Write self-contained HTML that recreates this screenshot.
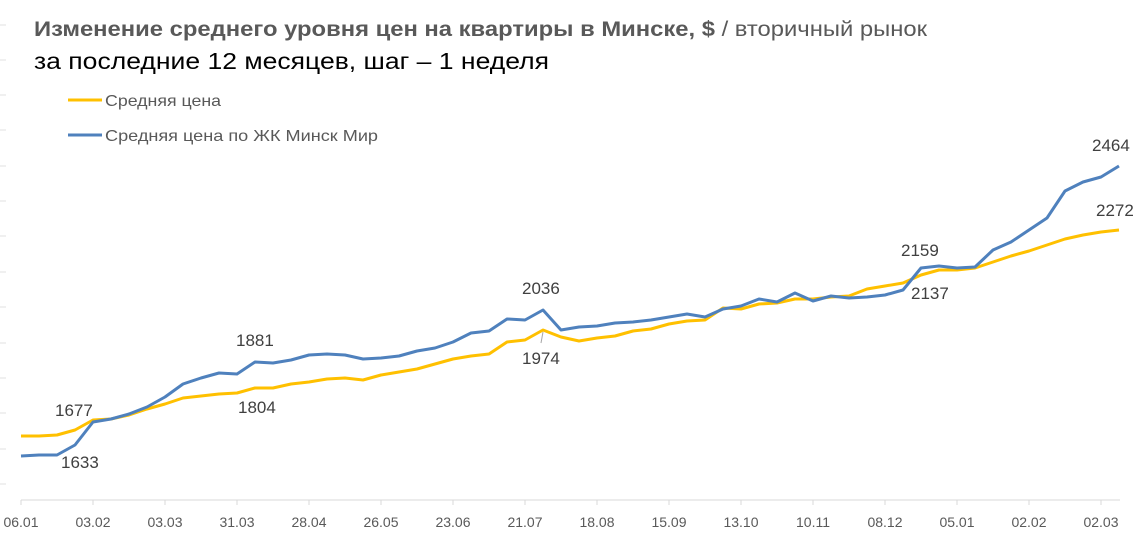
<!DOCTYPE html>
<html><head><meta charset="utf-8"><style>
body{margin:0;background:#fff;width:1139px;height:536px;overflow:hidden;}
svg text{font-family:"Liberation Sans",sans-serif;}
</style></head><body>
<svg width="1139" height="536" xmlns="http://www.w3.org/2000/svg">
<g stroke="#e0e0e0" stroke-width="1">
<line x1="0" y1="60" x2="6" y2="60"/><line x1="0" y1="95" x2="6" y2="95"/><line x1="0" y1="130" x2="6" y2="130"/><line x1="0" y1="166" x2="6" y2="166"/><line x1="0" y1="201" x2="6" y2="201"/><line x1="0" y1="236" x2="6" y2="236"/><line x1="0" y1="272" x2="6" y2="272"/><line x1="0" y1="307" x2="6" y2="307"/><line x1="0" y1="343" x2="6" y2="343"/><line x1="0" y1="378" x2="6" y2="378"/><line x1="0" y1="413" x2="6" y2="413"/><line x1="0" y1="449" x2="6" y2="449"/><line x1="0" y1="484" x2="6" y2="484"/><line x1="0" y1="25" x2="6" y2="25"/>
</g>
<text x="34" y="36" font-size="21" font-weight="bold" fill="#595959" textLength="893" lengthAdjust="spacingAndGlyphs">Изменение среднего уровня цен на квартиры в Минске, $ <tspan font-weight="normal">/ вторичный рынок</tspan></text>
<text x="34" y="69" font-size="23" fill="#000" textLength="515" lengthAdjust="spacingAndGlyphs">за последние 12 месяцев, шаг – 1 неделя</text>
<line x1="68" y1="100" x2="102" y2="100" stroke="#FFC000" stroke-width="3"/>
<text x="105" y="106" font-size="16" fill="#595959" textLength="116" lengthAdjust="spacingAndGlyphs">Средняя цена</text>
<line x1="68" y1="135" x2="102" y2="135" stroke="#4F81BD" stroke-width="3"/>
<text x="105" y="141" font-size="16" fill="#595959" textLength="273" lengthAdjust="spacingAndGlyphs">Средняя цена по ЖК Минск Мир</text>
<line x1="21" y1="500" x2="1120" y2="500" stroke="#d9d9d9"/>
<g stroke="#d9d9d9"><line x1="21" y1="500" x2="21" y2="505"/><line x1="93" y1="500" x2="93" y2="505"/><line x1="165" y1="500" x2="165" y2="505"/><line x1="237" y1="500" x2="237" y2="505"/><line x1="309" y1="500" x2="309" y2="505"/><line x1="381" y1="500" x2="381" y2="505"/><line x1="453" y1="500" x2="453" y2="505"/><line x1="525" y1="500" x2="525" y2="505"/><line x1="597" y1="500" x2="597" y2="505"/><line x1="669" y1="500" x2="669" y2="505"/><line x1="741" y1="500" x2="741" y2="505"/><line x1="813" y1="500" x2="813" y2="505"/><line x1="885" y1="500" x2="885" y2="505"/><line x1="957" y1="500" x2="957" y2="505"/><line x1="1029" y1="500" x2="1029" y2="505"/><line x1="1101" y1="500" x2="1101" y2="505"/></g>
<g font-size="14" fill="#595959" text-anchor="middle">
<text x="21" y="527">06.01</text><text x="93" y="527">03.02</text><text x="165" y="527">03.03</text><text x="237" y="527">31.03</text><text x="309" y="527">28.04</text><text x="381" y="527">26.05</text><text x="453" y="527">23.06</text><text x="525" y="527">21.07</text><text x="597" y="527">18.08</text><text x="669" y="527">15.09</text><text x="741" y="527">13.10</text><text x="813" y="527">10.11</text><text x="885" y="527">08.12</text><text x="957" y="527">05.01</text><text x="1029" y="527">02.02</text><text x="1101" y="527">02.03</text>
</g>
<polyline fill="none" stroke="#FFC000" stroke-width="3" stroke-linejoin="round" points="21,436 39,436 57,435 75,430 93,420 111,419 129,415 147,409 165,404 183,398 201,396 219,394 237,393 255,388 273,388 291,384 309,382 327,379 345,378 363,380 381,375 399,372 417,369 435,364 453,359 471,356 489,354 507,342 525,340 543,330 561,337 579,341 597,338 615,336 633,331 651,329 669,324 687,321 705,320 723,308 741,309 759,304 777,303 795,299 813,299 831,297 849,296 867,289 885,286 903,283 921,275 939,270 957,270 975,268 993,262 1011,256 1029,251 1047,245 1065,239 1083,235 1101,232 1119,230"/>
<polyline fill="none" stroke="#4F81BD" stroke-width="3" stroke-linejoin="round" points="21,456 39,455 57,455 75,445 93,422 111,419 129,414 147,407 165,397 183,384 201,378 219,373 237,374 255,362 273,363 291,360 309,355 327,354 345,355 363,359 381,358 399,356 417,351 435,348 453,342 471,333 489,331 507,319 525,320 543,310 561,330 579,327 597,326 615,323 633,322 651,320 669,317 687,314 705,317 723,309 741,306 759,299 777,302 795,293 813,301 831,296 849,298 867,297 885,295 903,290 921,268 939,266 957,268 975,267 993,250 1011,242 1029,230 1047,218 1065,191 1083,182 1101,177 1119,166"/>
<line x1="543" y1="332" x2="541" y2="343" stroke="#a6a6a6"/>
<g font-size="17" fill="#404040">
<text x="55" y="416">1677</text><text x="61" y="468">1633</text>
<text x="236" y="346">1881</text><text x="238" y="413">1804</text>
<text x="522" y="294">2036</text><text x="522" y="364">1974</text>
<text x="901" y="256">2159</text><text x="911" y="299">2137</text>
<text x="1092" y="151">2464</text><text x="1096" y="216">2272</text>
</g>
</svg>
</body></html>
